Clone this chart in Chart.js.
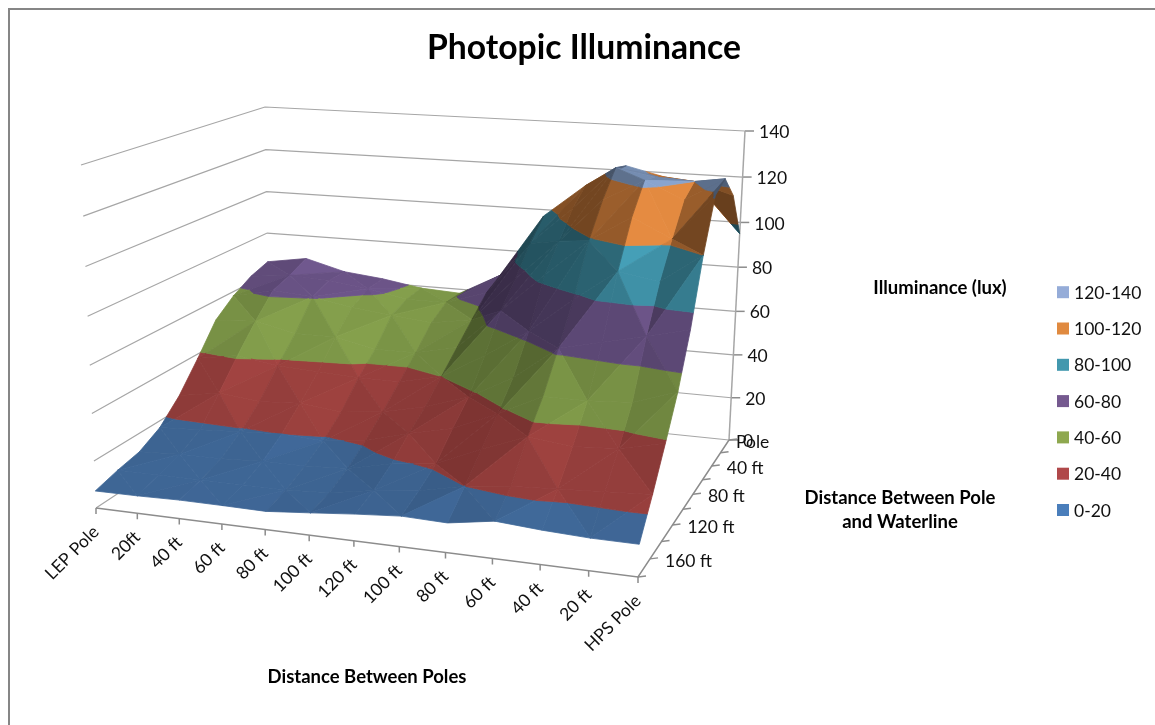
<!DOCTYPE html>
<html>
<head>
<meta charset="utf-8">
<title>Photopic Illuminance</title>
<script src="https://cdn.jsdelivr.net/npm/chart.js@4"></script>
<style>
    html, body { margin: 0; padding: 0; background: #fff; overflow: hidden; }
    canvas { display: block; }
</style>
</head>
<body>
<canvas id="myChart" width="1155" height="725"></canvas>
<script>
// categories along the poles axis
const poleLabels = ['LEP Pole', '20ft', '40 ft', '60 ft', '80 ft', '100 ft', '120 ft', '100 ft', '80 ft', '60 ft', '40 ft', '20 ft', 'HPS Pole'];
// waterline axis, every other tick has a label
const waterLabels = ['Pole', '', '40 ft', '', '80 ft', '', '120 ft', '', '160 ft', ''];
const luxTicks = [0, 20, 40, 60, 80, 100, 120, 140];
const bandLabels = ['0-20', '20-40', '40-60', '60-80', '80-100', '100-120', '120-140'];
const bandColors = [[79, 129, 189], [192, 80, 77], [155, 187, 89], [128, 100, 162], [75, 172, 198], [247, 150, 70], [149, 179, 225]];
const legendColors = ['#4a7ebb', '#b0484a', '#8ea84f', '#75598f', '#4298ae', '#e08a40', '#95acd8'];

// illuminance per row, from the pole out towards the water
const rowPole = [66, 69, 64, 62, 59, 58, 68, 97, 112, 122, 118, 116, 95];
const row20 = [63, 65, 64, 61.5, 58, 58, 64, 88, 105, 124, 121, 120, 115];
const row40 = [58, 62, 60.5, 57, 55, 53, 56, 76, 94, 113, 122.5, 115, 125];
const row60 = [51, 52, 48, 48, 44, 44, 48, 66, 83, 99, 110, 102, 121];
const row80 = [38, 41, 38, 37, 36, 36, 40, 51, 63, 78, 91, 88, 100];
const row100 = [26, 29, 27, 28, 26, 28, 32, 38, 48, 62, 66, 70, 74];
const row120 = [17, 18, 19, 20, 19, 21, 26, 30, 38, 47, 47, 48, 54];
const row140 = [12, 13, 13, 14, 14, 15, 19, 21, 29, 36, 34, 35, 39];
const row160 = [10, 10, 10, 10, 10, 11, 14, 16, 20, 22, 23, 24, 25];
const row180 = [7.3, 7.4, 7.8, 7.7, 7.5, 9.1, 10.8, 12.2, 11.7, 14.6, 13.3, 12.5, 12.4];
const rows = [rowPole, row20, row40, row60, row80, row100, row120, row140, row160, row180];

const nu = poleLabels.length - 1;
const nv = waterLabels.length - 1;
const zMax = 140;

// box corners on the page, floor and lid, each as front left, front right, back right, back left
const floorQuad = [[96, 508], [638, 577], [729, 440], [270, 393]];
const lidQuad = [[81, 165], [653, 190], [745, 131], [265, 107]];

// unit square to quad perspective
function quadMap(q) {
    const [A, B, C, D] = q;
    const dx1 = B[0] - C[0], dx2 = D[0] - C[0], sx = A[0] - B[0] + C[0] - D[0];
    const dy1 = B[1] - C[1], dy2 = D[1] - C[1], sy = A[1] - B[1] + C[1] - D[1];
    const den = dx1 * dy2 - dx2 * dy1;
    const g = (sx * dy2 - dx2 * sy) / den;
    const h = (dx1 * sy - sx * dy1) / den;
    return (s, t) => {
        const w = g * s + h * t + 1;
        return [
            ((B[0] - A[0] + g * B[0]) * s + (D[0] - A[0] + h * D[0]) * t + A[0]) / w,
            ((B[1] - A[1] + g * B[1]) * s + (D[1] - A[1] + h * D[1]) * t + A[1]) / w
        ];
    };
}
const floorMap = quadMap(floorQuad);
const lidMap = quadMap(lidQuad);

function project(u, v, z) {
    const s = u / nu, t = (nv - v) / nv;
    // the height steps open up a little towards the lid
    const r = z / zMax, k = r * (1 - 0.05 * (1 - r));
    const a = floorMap(s, t), b = lidMap(s, t);
    return { x: a[0] + (b[0] - a[0]) * k, y: a[1] + (b[1] - a[1]) * k };
}

// cut a polygon of [u, v, z] points with a height limit
function clipZ(poly, limit, keepAbove) {
    const out = [];
    for (let i = 0; i < poly.length; i++) {
        const p = poly[i], q = poly[(i + 1) % poly.length];
        const pIn = keepAbove ? p[2] >= limit : p[2] <= limit;
        const qIn = keepAbove ? q[2] >= limit : q[2] <= limit;
        if (pIn) out.push(p);
        if (pIn !== qIn) {
            const f = (limit - p[2]) / (q[2] - p[2]);
            out.push([p[0] + f * (q[0] - p[0]), p[1] + f * (q[1] - p[1]), limit]);
        }
    }
    return out;
}

const painted = [];

function addLine(points, color, width) {
    painted.push({
        data: points, showLine: true, pointRadius: 0, fill: false,
        borderColor: color, borderWidth: width
    });
}

// walls and axes
const gridColor = '#a6a6a6', axisColor = '#8c8c8c';
luxTicks.forEach(z => {
    if (z > 0) {
        addLine([project(0, nv, z), project(0, 0, z), project(nu, 0, z)], gridColor, 1.2);
    }
    const q = project(nu, 0, z);
    addLine([q, { x: q.x + 9, y: q.y }], axisColor, 1.5);
});
addLine([project(0, nv, 0), project(0, 0, 0), project(nu, 0, 0)], gridColor, 1.2);
addLine([project(nu, 0, 0), project(nu, 0, zMax)], gridColor, 1.5);
addLine([project(0, nv, 0), project(nu, nv, 0), project(nu, 0, 0)], axisColor, 1.5);
poleLabels.forEach((l, u) => {
    const q = project(u, nv, 0);
    addLine([q, { x: q.x, y: q.y + 6 }], axisColor, 1.5);
});
waterLabels.forEach((l, v) => {
    const q = project(nu, v, 0);
    addLine([q, { x: q.x + 8, y: q.y - 1 }], axisColor, 1.5);
});

function addFacet(tri) {
    // facets climbing along the poles axis or turned away from the front get less light
    let dzdu = 0, dzdv = 0;
    for (let i = 0; i < 3; i++) {
        const p = tri[i], q = tri[(i + 1) % 3];
        if (p[1] === q[1]) dzdu = (q[2] - p[2]) / (q[0] - p[0]);
        if (p[0] === q[0]) dzdv = (q[2] - p[2]) / (q[1] - p[1]);
    }
    const away = dzdv > 0 ? 0.035 * dzdv : 0;
    const shade = Math.min(1, Math.max(0.42, 0.79 - 0.017 * dzdu - away));
    bandColors.forEach((rgb, b) => {
        let poly = clipZ(tri, b * 20, true);
        if (poly.length > 2) poly = clipZ(poly, (b + 1) * 20, false);
        if (poly.length < 3) return;
        const c = rgb.map(n => Math.round(Math.min(255, n * shade)));
        const color = `rgb(${c[0]},${c[1]},${c[2]})`;
        const pts = poly.map(p => project(p[0], p[1], p[2]));
        pts.push(pts[0]);
        painted.push({
            data: pts, showLine: true, pointRadius: 0, fill: 'shape',
            borderColor: color, backgroundColor: color, borderWidth: 0.8
        });
    });
}

function addCell(u, v) {
    const p00 = [u, v, rows[v][u]], p10 = [u + 1, v, rows[v][u + 1]];
    const p01 = [u, v + 1, rows[v + 1][u]], p11 = [u + 1, v + 1, rows[v + 1][u + 1]];
    if ((u + v) % 2 === 0) {
        addFacet([p00, p10, p11]);
        addFacet([p00, p11, p01]);
    } else {
        addFacet([p00, p10, p01]);
        addFacet([p10, p11, p01]);
    }
}

// back row first, outer columns before the middle ones
for (let v = 0; v < nv; v++) {
    for (let i = 0; i < 6; i++) {
        addCell(i, v);
        addCell(nu - 1 - i, v);
    }
}

const textPlugin = {
    id: 'chartText',
    afterDraw(chart) {
        const ctx = chart.ctx;
        const xs = chart.scales.x, ys = chart.scales.y;
        const at = (q, dx, dy) => [xs.getPixelForValue(q.x) + dx, ys.getPixelForValue(q.y) + dy];
        ctx.save();

        ctx.strokeStyle = '#868686';
        ctx.lineWidth = 2;
        ctx.strokeRect(9, 9, 1300, 1000);

        ctx.fillStyle = '#000';
        ctx.textBaseline = 'middle';
        ctx.textAlign = 'center';
        ctx.font = 'bold 33.7px Lato';
        ctx.fillText('Photopic Illuminance', 584, 48);
        ctx.font = 'bold 18.5px Lato';
        ctx.fillText('Distance Between Poles', 367, 677);
        ctx.fillText('Illuminance (lux)', 940, 288);
        ctx.fillText('Distance Between Pole', 900, 498);
        ctx.fillText('and Waterline', 900, 522);

        ctx.font = '17.5px Lato';
        ctx.fillStyle = '#111';
        ctx.textAlign = 'left';
        luxTicks.forEach(z => {
            const [x, y] = at(project(nu, 0, z), 14, 1.5);
            ctx.fillText(String(z), x, y);
        });
        waterLabels.forEach((l, v) => {
            const [x, y] = at(project(nu, v, 0), v === 0 ? 7 : 15, 2);
            ctx.fillText(l, x, y);
        });
        poleLabels.forEach((l, u) => {
            const [x, y] = at(project(u, nv, 0), 0, 21);
            ctx.save();
            ctx.translate(x, y);
            ctx.rotate(-Math.PI / 4);
            ctx.textAlign = 'right';
            ctx.fillText(l, 0, 0);
            ctx.restore();
        });

        // legend, highest band on top
        bandLabels.forEach((l, i) => {
            const y = 510 - i * 36.3;
            ctx.fillStyle = legendColors[i];
            ctx.fillRect(1057, y - 6, 12, 12);
            ctx.fillStyle = '#111';
            ctx.fillText(l, 1074, y + 1);
        });
        ctx.restore();
    }
};

const ctx = document.getElementById('myChart');

new Chart(ctx, {
    type: 'scatter',
    // first dataset is drawn last
    data: { datasets: painted.slice().reverse() },
    options: {
        responsive: false,
        animation: false,
        events: [],
        layout: { padding: 0 },
        elements: { line: { tension: 0 } },
        scales: {
            x: { display: false, min: 0, max: 1155 },
            y: { display: false, min: 0, max: 725, reverse: true }
        },
        plugins: { legend: { display: false }, tooltip: { enabled: false } }
    },
    plugins: [textPlugin]
});
</script>
</body>
</html>
